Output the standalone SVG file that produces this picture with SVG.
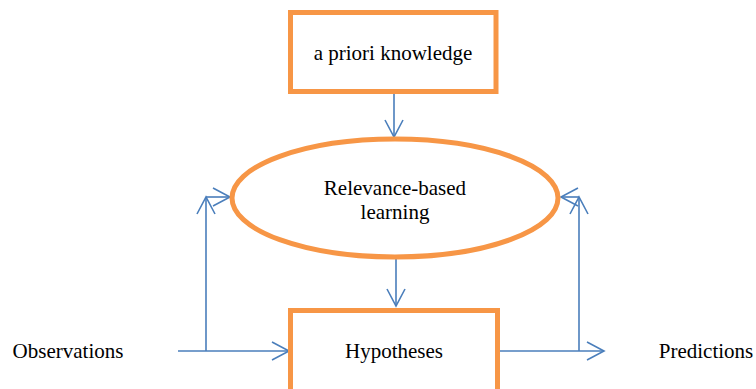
<svg xmlns="http://www.w3.org/2000/svg" width="756" height="389" viewBox="0 0 756 389">
<style>
.box{fill:#fff;stroke:#F79646;stroke-width:5}
.t{font-family:"Liberation Serif","Times New Roman",serif;font-size:21px;fill:#000;text-anchor:middle}
.c{fill:none;stroke:#4A7EBB;stroke-width:1.6}
</style>
<defs>
<marker id="ah" markerUnits="userSpaceOnUse" markerWidth="24" markerHeight="24" viewBox="-20 -12 24 24" refX="0" refY="0" orient="auto">
<path d="M-17,-9 L0,0 L-17,9" fill="none" stroke="#4A7EBB" stroke-width="1.6"/>
</marker>
</defs>
<rect width="756" height="389" fill="#fff"/>
<g id="connectors">
<line class="c" x1="394" y1="93" x2="394" y2="137" marker-end="url(#ah)"/>
<line class="c" x1="396" y1="259" x2="396" y2="306" marker-end="url(#ah)"/>
<line class="c" x1="178" y1="351" x2="289" y2="351" marker-end="url(#ah)"/>
<line class="c" x1="206" y1="351" x2="206" y2="197" marker-end="url(#ah)"/>
<line class="c" x1="206" y1="197" x2="230" y2="197" marker-end="url(#ah)"/>
<line class="c" x1="500" y1="351" x2="604" y2="351" marker-end="url(#ah)"/>
<line class="c" x1="579" y1="351" x2="579" y2="197" marker-end="url(#ah)"/>
<line class="c" x1="579" y1="197" x2="561" y2="197" marker-end="url(#ah)"/>
</g>
<g id="apriori">
<rect class="box" x="290.5" y="12.5" width="205.5" height="79"/>
<text class="t" x="393" y="60">a priori knowledge</text>
</g>
<g id="relevance">
<ellipse class="box" cx="395" cy="198" rx="163" ry="59"/>
<text class="t" x="395" y="195">Relevance-based</text>
<text class="t" x="395" y="219">learning</text>
</g>
<g id="hypotheses">
<rect class="box" x="290.5" y="310.5" width="207" height="90"/>
<text class="t" x="394" y="358">Hypotheses</text>
</g>
<g id="observations">
<text class="t" x="68" y="358">Observations</text>
</g>
<g id="predictions">
<text class="t" x="706" y="358">Predictions</text>
</g>
</svg>
